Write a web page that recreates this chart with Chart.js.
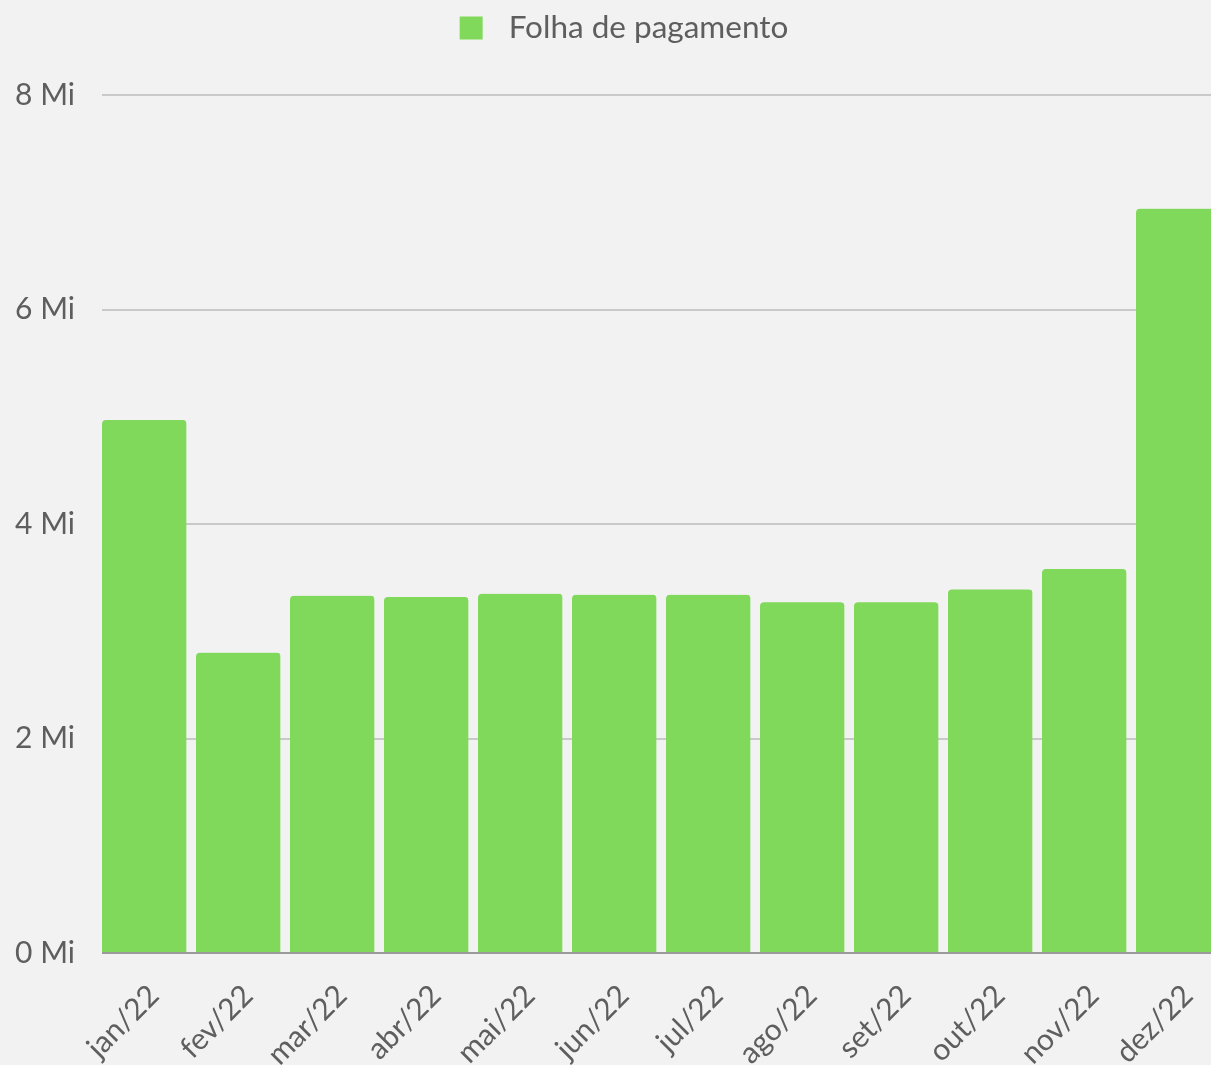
<!DOCTYPE html>
<html lang="pt-BR">
<head>
<meta charset="utf-8">
<title>Folha de pagamento 2022</title>
<script src="https://cdn.jsdelivr.net/npm/chart.js@4.4.1/dist/chart.umd.min.js"></script>
<style>
  html, body { margin: 0; padding: 0; background: #f2f2f2; overflow: hidden; }
  #wrap { width: 1230px; height: 1065px; position: relative; }
</style>
</head>
<body>
<div id="wrap"><canvas id="chart"></canvas></div>
<script>
// Monthly payroll totals, in millions (Mi)
const months = ['jan/22', 'fev/22', 'mar/22', 'abr/22', 'mai/22', 'jun/22',
                'jul/22', 'ago/22', 'set/22', 'out/22', 'nov/22', 'dez/22'];
const payroll = [4.97, 2.80, 3.33, 3.32, 3.35, 3.34, 3.34, 3.27, 3.27, 3.39, 3.58, 6.94];
const seriesName = 'Folha de pagamento';
const yTicks = [0, 2, 4, 6, 8];

const FONT = 'Lato, "Noto Sans", sans-serif';
const TEXT = '#5e5e5e';
const GREEN = '#80d95a';

// Centered legend drawn above the plot
const topLegend = {
  id: 'topLegend',
  afterDraw(chart) {
    const ctx = chart.ctx;
    const ds = chart.data.datasets[0];
    ctx.save();
    ctx.font = '31.5px ' + FONT;
    const box = 23, gap = 26;
    const tw = ctx.measureText(ds.label).width;
    const cx = 624;
    const x0 = cx - (box + gap + tw) / 2;
    const cy = 28;
    ctx.fillStyle = ds.backgroundColor;
    ctx.fillRect(x0, cy - box / 2, box, box);
    ctx.fillStyle = TEXT;
    ctx.textBaseline = 'middle';
    ctx.textAlign = 'left';
    ctx.fillText(ds.label, x0 + box + gap, cy);
    ctx.restore();
  }
};

new Chart(document.getElementById('chart'), {
  type: 'bar',
  data: {
    labels: months,
    datasets: [{
      label: seriesName,
      data: payroll,
      backgroundColor: GREEN,
      borderColor: 'rgba(0,0,0,0)',
      // transparent right border leaves the gap between neighbouring bars
      borderWidth: { top: 0, right: 10, bottom: 0, left: 0 },
      borderRadius: { topLeft: 4, topRight: 14, bottomLeft: 0, bottomRight: 0 },
      barPercentage: 1,
      categoryPercentage: 1
    }]
  },
  options: {
    responsive: true,
    maintainAspectRatio: false,
    animation: false,
    layout: { padding: { top: 95, right: 0, bottom: 0, left: 0 } },
    plugins: {
      legend: { display: false },
      tooltip: { enabled: false }
    },
    scales: {
      x: {
        grid: { display: false },
        border: { display: false },
        ticks: {
          color: TEXT,
          font: { family: FONT, size: 30 },
          minRotation: 45,
          maxRotation: 45,
          autoSkip: false,
          labelOffset: 5,
          padding: 17
        },
        afterFit(scale) { scale.height = 112; }
      },
      y: {
        min: 0,
        max: 8,
        afterBuildTicks(scale) { scale.ticks = yTicks.map(v => ({ value: v })); },
        grid: {
          color: c => (c.tick && c.tick.value === 0 ? '#9a9a9a' : '#c9c9c9'),
          lineWidth: 2,
          drawTicks: false
        },
        border: { display: false },
        ticks: {
          color: TEXT,
          font: { family: FONT, size: 30 },
          padding: 27,
          callback: v => v + ' Mi'
        },
        afterFit(scale) { scale.width = 102; }
      }
    }
  },
  plugins: [topLegend]
});
</script>
</body>
</html>
